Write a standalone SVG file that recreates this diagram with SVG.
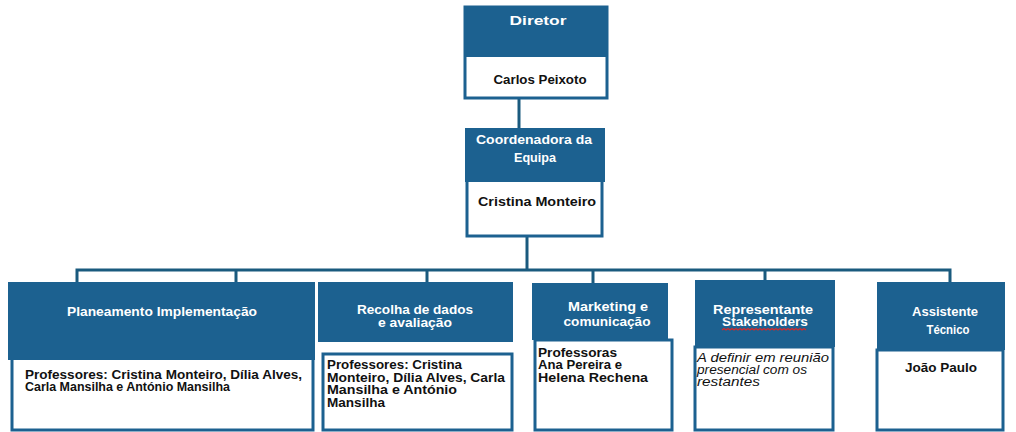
<svg xmlns="http://www.w3.org/2000/svg" width="1016" height="432" viewBox="0 0 1016 432">
<style>
.box{fill:#fff;stroke:#1c6190;stroke-width:3}
.hdr{fill:#1c6190}
.conn{stroke:#1a5a7e;stroke-width:3;fill:none}
.ht{font-family:"Liberation Sans",Arial,sans-serif;font-weight:bold;fill:#fff;font-size:12px;text-anchor:middle}
.nt{font-family:"Liberation Sans",Arial,sans-serif;font-weight:bold;fill:#111;font-size:13px;text-anchor:middle}
.bt{font-family:"Liberation Sans",Arial,sans-serif;font-weight:bold;fill:#111;font-size:12.5px}
.it{font-family:"Liberation Sans",Arial,sans-serif;font-style:italic;fill:#111;font-size:12px}
</style>
<rect width="1016" height="432" fill="#fff"/>
<g id="connectors">
<path class="conn" d="M519 98V128"/>
<path class="conn" d="M527 237V270"/>
<path class="conn" d="M77 282V270H950V282"/>
<path class="conn" d="M236 270V282M427 270V282M593 270V283M765 270V280"/>
</g>
<g id="diretor">
<rect class="box" x="465" y="7" width="142" height="91"/>
<rect class="hdr" x="465" y="7" width="142" height="50"/>
<text class="ht" x="538" y="25" font-size="14" textLength="57" lengthAdjust="spacingAndGlyphs">Diretor</text>
<text class="nt" x="540" y="84" textLength="93" lengthAdjust="spacingAndGlyphs">Carlos Peixoto</text>
</g>
<g id="coordenadora">
<rect class="box" x="467" y="180" width="135" height="56"/>
<rect class="hdr" x="465" y="128" width="140" height="54"/>
<text class="ht" x="534" y="144" font-size="12.5" textLength="116" lengthAdjust="spacingAndGlyphs">Coordenadora da</text>
<text class="ht" x="535" y="162" font-size="12.5" textLength="42" lengthAdjust="spacingAndGlyphs">Equipa</text>
<text class="nt" x="537" y="206" font-size="13.5" textLength="118" lengthAdjust="spacingAndGlyphs">Cristina Monteiro</text>
</g>
<g id="planeamento">
<rect class="box" x="12" y="358" width="301" height="72"/>
<rect class="hdr" x="8" y="282" width="307" height="78"/>
<text class="ht" x="162" y="316" font-size="12.5" textLength="190" lengthAdjust="spacingAndGlyphs">Planeamento Implementação</text>
<text class="bt" x="25" y="379" textLength="277" lengthAdjust="spacingAndGlyphs">Professores: Cristina Monteiro, Dília Alves,</text>
<text class="bt" x="25" y="391" textLength="205" lengthAdjust="spacingAndGlyphs">Carla Mansilha e António Mansilha</text>
</g>
<g id="recolha">
<rect class="hdr" x="318" y="282" width="195" height="60"/>
<rect class="box" x="323" y="354" width="189" height="76"/>
<text class="ht" x="415" y="314" textLength="116" lengthAdjust="spacingAndGlyphs">Recolha de dados</text>
<text class="ht" x="415" y="327" textLength="74" lengthAdjust="spacingAndGlyphs">e avaliação</text>
<text class="bt" x="327" y="369" textLength="135" lengthAdjust="spacingAndGlyphs">Professores: Cristina</text>
<text class="bt" x="327" y="382" textLength="178" lengthAdjust="spacingAndGlyphs">Monteiro, Dília Alves, Carla</text>
<text class="bt" x="327" y="394" textLength="130" lengthAdjust="spacingAndGlyphs">Mansilha e António</text>
<text class="bt" x="327" y="407" textLength="58" lengthAdjust="spacingAndGlyphs">Mansilha</text>
</g>
<g id="marketing">
<rect class="box" x="535" y="340" width="137" height="90"/>
<rect class="hdr" x="532" y="283" width="136" height="57"/>
<text class="ht" x="608" y="311" textLength="80" lengthAdjust="spacingAndGlyphs">Marketing e</text>
<text class="ht" x="607" y="326" textLength="87" lengthAdjust="spacingAndGlyphs">comunicação</text>
<text class="bt" x="538" y="357" textLength="79" lengthAdjust="spacingAndGlyphs">Professoras</text>
<text class="bt" x="538" y="369" textLength="84" lengthAdjust="spacingAndGlyphs">Ana Pereira e</text>
<text class="bt" x="538" y="382" textLength="110" lengthAdjust="spacingAndGlyphs">Helena Rechena</text>
</g>
<g id="representante">
<rect class="box" x="695" y="347" width="138" height="83"/>
<rect class="hdr" x="695" y="280" width="140" height="67"/>
<text class="ht" x="763" y="314" textLength="100" lengthAdjust="spacingAndGlyphs">Representante</text>
<text class="ht" x="765" y="326" textLength="86" lengthAdjust="spacingAndGlyphs">Stakeholders</text>
<path d="M722 330l2-1.5 2 1.5 2-1.5 2 1.5 2-1.5 2 1.5 2-1.5 2 1.5 2-1.5 2 1.5 2-1.5 2 1.5 2-1.5 2 1.5 2-1.5 2 1.5 2-1.5 2 1.5 2-1.5 2 1.5 2-1.5 2 1.5 2-1.5 2 1.5 2-1.5 2 1.5 2-1.5 2 1.5 2-1.5 2 1.5 2-1.5 2 1.5 2-1.5 2 1.5 2-1.5 2 1.5 2-1.5 2 1.5 2-1.5 2 1.5 2-1.5 2 1.5" fill="none" stroke="#d42a2a" stroke-width="1.2"/>
<text class="it" x="697" y="362" textLength="132" lengthAdjust="spacingAndGlyphs">A definir em reunião</text>
<text class="it" x="697" y="374" textLength="110" lengthAdjust="spacingAndGlyphs">presencial com os</text>
<text class="it" x="697" y="386" textLength="63" lengthAdjust="spacingAndGlyphs">restantes</text>
</g>
<g id="assistente">
<rect class="box" x="877" y="350" width="126" height="80"/>
<rect class="hdr" x="877" y="282" width="128" height="68"/>
<text class="ht" x="945" y="316" textLength="66" lengthAdjust="spacingAndGlyphs">Assistente</text>
<text class="ht" x="948" y="334" textLength="43" lengthAdjust="spacingAndGlyphs">Técnico</text>
<text class="nt" x="941" y="372" font-size="12.5" textLength="72" lengthAdjust="spacingAndGlyphs">João Paulo</text>
</g>
</svg>
